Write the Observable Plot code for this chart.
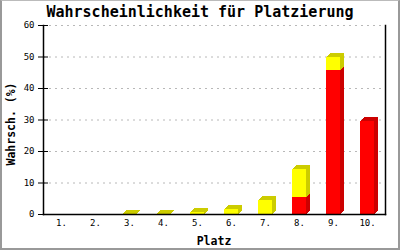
<!DOCTYPE html>
<html>
<head>
<meta charset="utf-8">
<script src="https://cdn.jsdelivr.net/npm/d3@7"></script>
<script src="https://cdn.jsdelivr.net/npm/@observablehq/plot@0.6"></script>
<style>
  html, body { margin: 0; padding: 0; background: #fff; }
  #wrap { position: relative; width: 400px; height: 250px; overflow: hidden; background: #fff; }
  #chart { position: absolute; left: 0; top: 0; }
  .t { position: absolute; font-family: "DejaVu Sans Mono", monospace; font-weight: bold; line-height: 1; color: #000; white-space: nowrap; }
  .title { left: 0; width: 400px; text-align: center; top: 5px; font-size: 15px; }
  .xlab { left: 43px; width: 342px; text-align: center; top: 236px; font-size: 11.5px; }
  .ylab { left: 12px; top: 124px; font-size: 11.5px; transform: translate(-50%, -50%) rotate(-90deg); }
  .border { position: absolute; inset: 0; border: 2px solid #999; border-top: 1px solid #bbb; pointer-events: none; }
</style>
</head>
<body>
<div id="wrap">
  <div id="chart"></div>
  <div class="t title">Wahrscheinlichkeit für Platzierung</div>
  <div class="t ylab">Wahrsch. (%)</div>
  <div class="t xlab">Platz</div>
  <div class="border"></div>
</div>
<script>
const categories = ["1.", "2.", "3.", "4.", "5.", "6.", "7.", "8.", "9.", "10."];
const redValues = [0, 0, 0, 0, 0, 0, 0, 5.5, 45.7, 29.6];
const yellowValues = [0, 0, 0.15, 0.15, 0.6, 1.6, 4.4, 8.8, 4.2, 0];
const yTicks = [0, 10, 20, 30, 40, 50, 60];

const data = categories.map((c, i) => ({cat: c, r: redValues[i], yel: yellowValues[i]}));

const depth = 4;
const inset = 9.6;

function extruded(filter, y1, y2, front, dark) {
  const marks = [];
  for (let k = depth; k >= 1; k--) {
    marks.push(Plot.barY(data, {
      filter, x: "cat", y1, y2, fill: dark,
      insetLeft: inset, insetRight: inset, insetBottom: -1,
      dx: k, dy: -k, shapeRendering: "crispEdges"
    }));
  }
  marks.push(Plot.barY(data, {
    filter, x: "cat", y1, y2, fill: front,
    insetLeft: inset, insetRight: inset, shapeRendering: "crispEdges"
  }));
  return marks;
}

const chart = Plot.plot({
  width: 400,
  height: 250,
  marginLeft: 43,
  marginRight: 15,
  marginTop: 25,
  marginBottom: 36,
  style: {fontFamily: "'DejaVu Sans Mono', monospace", fontSize: "9px", color: "#000", background: "transparent"},
  x: {domain: categories, padding: 0, label: null},
  y: {domain: [0, 60], label: null},
  marks: [
    Plot.gridY(yTicks.filter(d => d > 0), {stroke: "#b8b8b8", strokeOpacity: 1, strokeDasharray: "2,4"}),
    ...extruded(d => d.r > 0, d => 0, d => d.r, "#ff0000", "#cc0000"),
    ...extruded(d => d.yel > 0, d => d.r, d => d.r + d.yel, "#ffff00", "#cccc00"),
    Plot.frame({anchor: "left", stroke: "#000", strokeWidth: 1.5}),
    Plot.frame({anchor: "right", stroke: "#000", strokeWidth: 1.5}),
    Plot.frame({anchor: "bottom", stroke: "#000", strokeWidth: 1.5}),
    Plot.axisY({ticks: yTicks, tickSize: 10, tickPadding: 4, dx: 5, label: null, stroke: "#000"}),
    Plot.axisX({tickSize: 0, tickPadding: 5, label: null})
  ]
});
document.getElementById("chart").appendChild(chart);
</script>
</body>
</html>
